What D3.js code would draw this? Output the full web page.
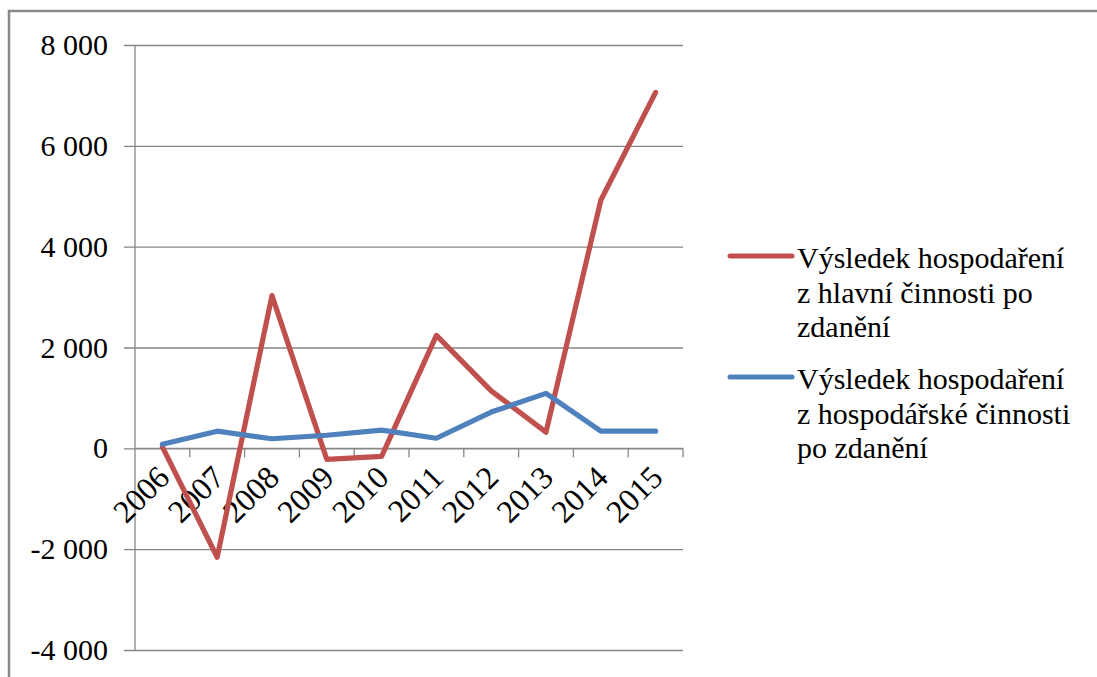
<!DOCTYPE html>
<html>
<head>
<meta charset="utf-8">
<script src="https://cdn.jsdelivr.net/npm/d3@7/dist/d3.min.js"></script>
<style>
  html, body { margin: 0; padding: 0; background: #fff; }
  svg { display: block; }
  text { font-family: "Liberation Serif", "Times New Roman", serif; fill: #000; }
</style>
</head>
<body>
<svg id="chart" width="1097" height="677"></svg>
<script>
// ---- data ----
const years = ["2006", "2007", "2008", "2009", "2010", "2011", "2012", "2013", "2014", "2015"];
const mainActivity = [30, -2160, 3030, -220, -160, 2240, 1140, 320, 4920, 7060];
const economicActivity = [80, 340, 190, 260, 360, 200, 720, 1090, 340, 340];
const yTicks = [-4000, -2000, 0, 2000, 4000, 6000, 8000];
const seriesNames = [
  ["Výsledek hospodaření", "z hlavní činnosti po", "zdanění"],
  ["Výsledek hospodaření", "z hospodářské činnosti", "po zdanění"]
];
const seriesColors = ["#C0504D", "#4F81BD"];

// ---- layout ----
const svg = d3.select("#chart");
const W = 1097, H = 677;
const plot = { left: 135, right: 683, top: 45, bottom: 650 };

svg.append("rect").attr("width", W).attr("height", H).attr("fill", "#fff");

// outer frame (left and top edges visible)
svg.append("path")
  .attr("d", `M9,${H} L9,11 L${W},11`)
  .attr("fill", "none").attr("stroke", "#8a8a8a").attr("stroke-width", 2.5);

const x = d3.scaleBand().domain(years).range([plot.left, plot.right]).padding(0);
const y = d3.scaleLinear().domain([-4000, 8000]).range([plot.bottom, plot.top]);

const loc = d3.formatLocale({ decimal: ",", thousands: " ", grouping: [3], currency: ["", ""], minus: "-" });
const fmt = loc.format(",.0f");

// gridlines + y labels via axis
const yAxis = d3.axisLeft(y).tickValues(yTicks).tickFormat(fmt)
  .tickSize(-(plot.right - plot.left)).tickPadding(16);
const gy = svg.append("g").attr("transform", `translate(${plot.left},0)`).call(yAxis);
gy.select(".domain").remove();
gy.selectAll(".tick line").attr("stroke", "#868686").attr("stroke-width", 1.3).attr("x1", -11);
gy.selectAll(".tick text")
  .attr("x", -27)
  .attr("font-size", 30).attr("font-family", "Liberation Serif, serif").attr("fill", "#000");

// vertical axis line
svg.append("line")
  .attr("x1", plot.left).attr("x2", plot.left)
  .attr("y1", y(8000)).attr("y2", y(-4000))
  .attr("stroke", "#868686").attr("stroke-width", 1.3);

// horizontal axis at 0 with tick marks at category boundaries
const y0 = y(0);
svg.append("line")
  .attr("x1", plot.left).attr("x2", plot.right).attr("y1", y0).attr("y2", y0)
  .attr("stroke", "#868686").attr("stroke-width", 1.3);
const bounds = years.map(d => x(d)).concat([x(years[years.length - 1]) + x.bandwidth()]);
svg.append("g").selectAll("line").data(bounds.slice(1)).join("line")
  .attr("x1", d => d).attr("x2", d => d)
  .attr("y1", y0).attr("y2", y0 + 9)
  .attr("stroke", "#868686").attr("stroke-width", 1.3);

// x labels rotated
svg.append("g").selectAll("text").data(years).join("text")
  .attr("transform", d => `translate(${x(d) + x.bandwidth() / 2 + 9},${y0 + 31}) rotate(-45)`)
  .attr("text-anchor", "end")
  .attr("font-size", 32)
  .text(d => d);

// lines
const line = d3.line().x((d, i) => x(years[i]) + x.bandwidth() / 2).y(d => y(d));
[mainActivity, economicActivity].forEach((s, k) => {
  svg.append("path")
    .attr("d", line(s))
    .attr("fill", "none")
    .attr("stroke", seriesColors[k])
    .attr("stroke-width", 5.2)
    .attr("stroke-linejoin", "round")
    .attr("stroke-linecap", "round");
});

// legend
const legendTop = [256, 377];
seriesNames.forEach((lines, k) => {
  const g = svg.append("g");
  g.append("line")
    .attr("x1", 730).attr("x2", 792)
    .attr("y1", legendTop[k]).attr("y2", legendTop[k])
    .attr("stroke", seriesColors[k]).attr("stroke-width", 5).attr("stroke-linecap", "round");
  lines.forEach((t, j) => {
    g.append("text")
      .attr("x", 797).attr("y", legendTop[k] + 12 + j * 34.5)
      .attr("font-size", 30)
      .text(t);
  });
});
</script>
</body>
</html>
